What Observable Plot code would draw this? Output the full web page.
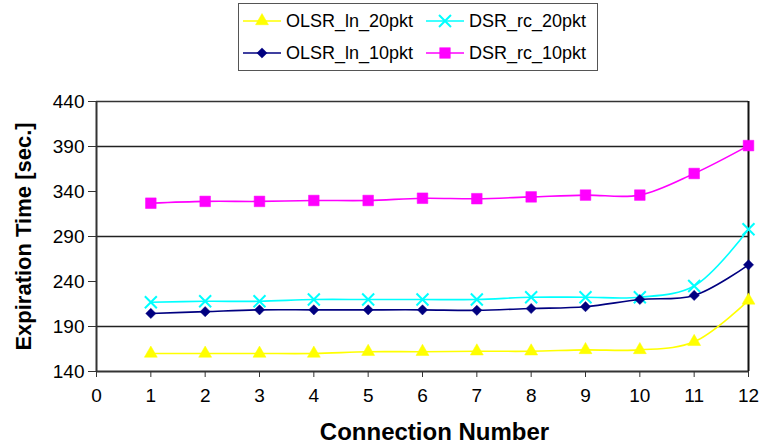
<!DOCTYPE html>
<html>
<head>
<meta charset="utf-8">
<script src="https://cdn.jsdelivr.net/npm/d3@7"></script>
<script src="https://cdn.jsdelivr.net/npm/@observablehq/plot@0.6"></script>
<style>
  html, body { margin: 0; padding: 0; background: #fff; }
  body { width: 759px; height: 443px; overflow: hidden; font-family: "Liberation Sans", Arial, sans-serif; }
  #legend { position: relative; height: 80px; }
  #legendBox { position: absolute; left: 238px; top: 3px; width: 358px; height: 66px; border: 1.5px solid #555; }
  .item { position: absolute; display: flex; align-items: center; font-size: 18px; color: #000; }
  .item svg { margin-right: 5px; }
</style>
</head>
<body>
<div id="legend"><div id="legendBox"></div></div>
<div id="chart"></div>
<script>
const connections = [1, 2, 3, 4, 5, 6, 7, 8, 9, 10, 11, 12];
const seriesNames = ["OLSR_ln_20pkt", "DSR_rc_20pkt", "OLSR_ln_10pkt", "DSR_rc_10pkt"];
const olsr20 = [160, 160, 160, 160, 162, 162, 162.5, 162.5, 164, 164, 173, 219];
const dsr20  = [217, 218, 218, 220, 220, 220, 220, 222.5, 222.5, 222.5, 235, 298];
const olsr10 = [204.5, 206.5, 208.5, 208.5, 208.5, 208.5, 208, 210, 212, 220, 224.5, 258.5];
const dsr10  = [327, 329, 329, 330, 330, 332.5, 332, 334, 336, 336, 360, 391];
const yTicks = [140, 190, 240, 290, 340, 390, 440];
const gridValues = [190, 290, 390];
const xTicks = [0, 1, 2, 3, 4, 5, 6, 7, 8, 9, 10, 11, 12];

const colors = {"OLSR_ln_20pkt": "#ffff00", "DSR_rc_20pkt": "#00ffff", "OLSR_ln_10pkt": "#000080", "DSR_rc_10pkt": "#ff00ff"};
const symbols = {"OLSR_ln_20pkt": "triangle", "DSR_rc_20pkt": "times", "OLSR_ln_10pkt": "diamond2", "DSR_rc_10pkt": "square"};
const radius = {"OLSR_ln_20pkt": 4.8, "DSR_rc_20pkt": 5.5, "OLSR_ln_10pkt": 4.6, "DSR_rc_10pkt": 6};
const valuesBy = {"OLSR_ln_20pkt": olsr20, "DSR_rc_20pkt": dsr20, "OLSR_ln_10pkt": olsr10, "DSR_rc_10pkt": dsr10};

const data = [];
for (const s of seriesNames) valuesBy[s].forEach((v, i) => data.push({series: s, x: connections[i], y: v}));

const marks = [
  Plot.ruleY(gridValues, {stroke: "#222", strokeWidth: 1.3}),
  Plot.ruleY([440], {stroke: "#333", strokeWidth: 1.5}),
  Plot.ruleX([12], {stroke: "#111", strokeWidth: 2}),
  Plot.ruleX([0], {stroke: "#333", strokeWidth: 2}),
  Plot.ruleY([140], {stroke: "#333", strokeWidth: 2}),
  Plot.axisY({ticks: yTicks, tickSize: 8, tickPadding: 4, fontSize: 19, label: "Expiration Time [sec.]", labelAnchor: "center", labelArrow: "none", labelOffset: 81, stroke: "#333"}),
  Plot.axisX({ticks: xTicks, tickSize: 6, tickPadding: 11, fontSize: 19, label: "Connection Number", labelAnchor: "center", labelArrow: "none", labelOffset: 68, stroke: "#333"})
];
for (const s of seriesNames) {
  const d = data.filter(r => r.series === s);
  marks.push(Plot.line(d, {x: "x", y: "y", stroke: colors[s], strokeWidth: 1.6, curve: "catmull-rom"}));
  const filled = symbols[s] !== "times";
  marks.push(Plot.dot(d, {x: "x", y: "y", symbol: () => symbols[s], r: radius[s],
    fill: filled ? colors[s] : "none", stroke: colors[s], strokeWidth: filled ? 0.5 : 2}));
}

const chart = Plot.plot({
  width: 759, height: 363,
  marginLeft: 96, marginRight: 11, marginTop: 21, marginBottom: 72,
  style: {fontFamily: "'Liberation Sans', Arial, sans-serif", color: "#000", background: "#fff"},
  x: {domain: [0, 12]},
  y: {domain: [140, 440]},
  symbol: {type: "identity"},
  marks
});
document.getElementById("chart").appendChild(chart);
function styleLabel(sel, size, dx) {
  chart.querySelectorAll(sel).forEach(g => {
    g.setAttribute("font-size", size); g.setAttribute("font-weight", "bold");
    g.querySelectorAll("text").forEach(t => {
      t.style.fontSize = size + "px"; t.style.fontWeight = "bold";
      if (dx) t.setAttribute("dx", dx);
    });
  });
}
styleLabel('[aria-label="y-axis label"]', 22, 0);
styleLabel('[aria-label="x-axis label"]', 24, 12);

// legend
const box = document.getElementById("legendBox");
const pos = [[4, 0], [187, 0], [4, 32], [187, 32]];
seriesNames.forEach((s, i) => {
  const div = document.createElement("div");
  div.className = "item";
  div.style.left = pos[i][0] + "px";
  div.style.top = (pos[i][1] + 4) + "px";
  const sw = d3.create("svg").attr("width", 38).attr("height", 26);
  sw.append("line").attr("x1", 0).attr("x2", 38).attr("y1", 13).attr("y2", 13).attr("stroke", colors[s]).attr("stroke-width", 1.6);
  const sym = {triangle: d3.symbolTriangle, times: d3.symbolTimes, diamond2: d3.symbolDiamond2, square: d3.symbolSquare}[symbols[s]];
  const filled = symbols[s] !== "times";
  sw.append("path").attr("transform", "translate(19,13)").attr("d", d3.symbol(sym, Math.PI * radius[s] * radius[s])())
    .attr("fill", filled ? colors[s] : "none").attr("stroke", colors[s]).attr("stroke-width", filled ? 0.5 : 2);
  div.appendChild(sw.node());
  const span = document.createElement("span");
  span.textContent = s;
  div.appendChild(span);
  box.appendChild(div);
});
</script>
</body>
</html>
